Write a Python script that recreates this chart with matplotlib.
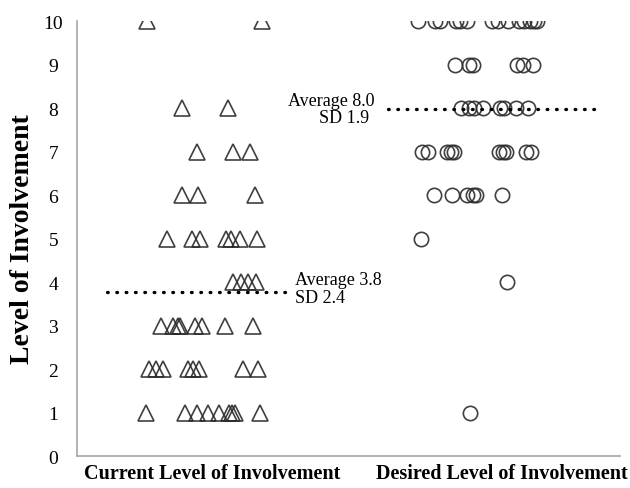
import numpy as np
import matplotlib.pyplot as plt

# level of involvement (0-10) and horizontal jitter offset for each respondent
current_levels = [1]*9 + [2]*8 + [3]*8 + [4]*4 + [5]*7 + [6]*3 + [7]*3 + [8]*2 + [10]*2
current_jitter = [-0.227, -0.093, -0.052, -0.014, 0.024, 0.058, 0.069, 0.079, 0.165,
                  -0.216, -0.192, -0.168, -0.082, -0.065, -0.045, 0.107, 0.158,
                  -0.175, -0.134, -0.117, -0.110, -0.058, -0.034, 0.045, 0.141,
                  0.072, 0.100, 0.124, 0.151,
                  -0.155, -0.069, -0.041, 0.048, 0.065, 0.096, 0.155,
                  -0.103, -0.048, 0.148,
                  -0.052, 0.072, 0.131,
                  -0.103, 0.055,
                  -0.223, 0.172]

desired_levels = [10]*14 + [9]*6 + [8]*8 + [7]*10 + [6]*6 + [5] + [4] + [1]
desired_jitter = [-0.292, -0.234, -0.216, -0.162, -0.148, -0.124, -0.038, -0.017, 0.017,
                  0.055, 0.072, 0.093, 0.107, 0.117,
                  -0.165, -0.117, -0.103, 0.048, 0.069, 0.103,
                  -0.144, -0.117, -0.100, -0.069, -0.010, 0.003, 0.045, 0.086,
                  -0.278, -0.258, -0.192, -0.179, -0.168, -0.014, 0.0, 0.010, 0.079, 0.096,
                  -0.237, -0.175, -0.124, -0.103, -0.093, -0.003,
                  -0.282,
                  0.014,
                  -0.113]

group_labels = ['Current Level of Involvement', 'Desired Level of Involvement']
averages = [3.8, 8.0]
sds = [2.4, 1.9]

plt.rcParams['font.family'] = ['Liberation Serif', 'DejaVu Serif']

fig = plt.figure(figsize=(6.3, 4.89), dpi=100)
ax = fig.add_axes([0.122, 0.0654, 0.862, 0.8896])

ink = '#2b2b2b'
ax.plot(1 + np.array(current_jitter), current_levels, linestyle='none', marker='^',
        markersize=11, markerfacecolor='none', markeredgecolor=ink, markeredgewidth=1.2, alpha=0.9)
ax.plot(2 + np.array(desired_jitter), desired_levels, linestyle='none', marker='o',
        markersize=10.3, markerfacecolor='none', markeredgecolor=ink, markeredgewidth=1.2, alpha=0.9)

# average lines
ax.plot([0.639, 1.258], [averages[0] - 0.03]*2, color='black', linewidth=2.4,
        linestyle=(0, (0.2, 2.6)), dash_capstyle='round')
ax.plot([1.605, 2.326], [averages[1] - 0.03]*2, color='black', linewidth=2.4,
        linestyle=(0, (0.2, 2.6)), dash_capstyle='round')

ax.text(1.285, averages[0] + 0.05, f'Average {averages[0]:.1f}\nSD {sds[0]:.1f}',
        fontsize=13, ha='left', va='center', linespacing=1.1)
ax.text(1.56, averages[1] - 0.02, f'Average {averages[1]:.1f}', fontsize=13, ha='right', va='bottom')
ax.text(1.54, averages[1] - 0.02, f'SD {sds[1]:.1f}', fontsize=13, ha='right', va='top')

ax.set_xlim(0.536, 2.402)
ax.set_ylim(0, 10)
ax.set_yticks(range(0, 11))
ax.set_xticks([1, 1.995])
ax.set_xticklabels(group_labels, fontsize=14.5, fontweight='bold')
ax.tick_params(axis='x', length=0, pad=5)
ax.tick_params(axis='y', length=0, pad=17, labelsize=14)
for lab in ax.get_yticklabels():
    lab.set_horizontalalignment('center')

ax.set_ylabel('Level of Involvement', fontsize=20, fontweight='bold', labelpad=6)

for side in ['top', 'right']:
    ax.spines[side].set_visible(False)
for side in ['left', 'bottom']:
    ax.spines[side].set_color('#a6a6a6')
    ax.spines[side].set_linewidth(1.2)

fig.savefig('out.png', dpi=100)
